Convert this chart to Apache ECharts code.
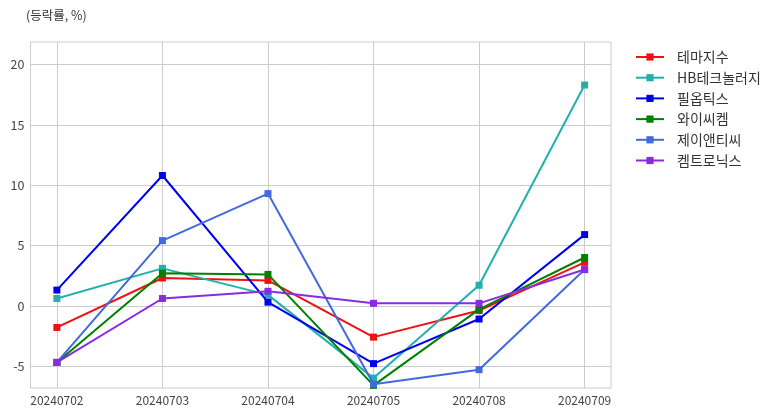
<!DOCTYPE html>
<html>
<head>
<meta charset="utf-8">
<script src="https://cdn.jsdelivr.net/npm/echarts@6/dist/echarts.min.js"></script>
<style>html,body{margin:0;padding:0;background:#fff;}#c{width:777px;height:416px;}</style>
</head>
<body>
<div id="c"></div>
<script>
const dates = ['20240702','20240703','20240704','20240705','20240708','20240709'];
const seriesNames = ['테마지수','HB테크놀러지','필옵틱스','와이씨켐','제이앤티씨','켐트로닉스'];
const themeIndex = [-1.8, 2.3, 2.1, -2.6, -0.4, 3.6];
const hbTech = [0.6, 3.1, 0.9, -6.0, 1.7, 18.3];
const philOptics = [1.3, 10.8, 0.3, -4.8, -1.1, 5.9];
const ycChem = [-4.7, 2.7, 2.6, -6.6, -0.3, 4.0];
const jntc = [-4.7, 5.4, 9.3, -6.5, -5.3, 3.0];
const chemtronics = [-4.7, 0.6, 1.2, 0.2, 0.2, 3.0];
const yTicks = [-5, 0, 5, 10, 15, 20];

const values = [themeIndex, hbTech, philOptics, ycChem, jntc, chemtronics];
const colors = ['#ee1111', '#20b2aa', '#0000ee', '#007f00', '#4169e1', '#8a2be2'];
const font = '"Noto Sans CJK KR", "Noto Sans", sans-serif';

const chart = echarts.init(document.getElementById('c'), null, {renderer: 'canvas'});
chart.setOption({
  animation: false,
  backgroundColor: '#fff',
  textStyle: {fontFamily: font},
  title: {
    text: '(등락률, %)', left: 26, top: 9, padding: 0,
    textStyle: {fontSize: 12.5, fontWeight: 'normal', color: '#333', fontFamily: font}
  },
  legend: {
    orient: 'vertical', left: 635, top: 50, padding: 0,
    itemWidth: 28, itemHeight: 9, itemGap: 6.7,
    data: seriesNames,
    textStyle: {fontSize: 14, color: '#333', fontFamily: font, padding: [0,0,0,8]}
  },
  grid: {
    left: 30.5, right: 166, top: 42, bottom: 28,
    show: true, borderColor: '#cccccc', borderWidth: 1, containLabel: false
  },
  xAxis: {
    type: 'value', min: -0.25, max: 5.25,
    axisLine: {show: false},
    axisTick: {show: false, customValues: [0,1,2,3,4,5]},
    axisLabel: {
      customValues: [0,1,2,3,4,5],
      formatter: v => dates[Math.round(v)],
      fontSize: 12, color: '#444', margin: 6, fontFamily: font
    },
    splitLine: {show: true, lineStyle: {color: '#cccccc', width: 1}}
  },
  yAxis: {
    type: 'value', min: -6.82, max: 21.87,
    axisLine: {show: false},
    axisTick: {show: false, customValues: yTicks},
    axisLabel: {customValues: yTicks, fontSize: 12.5, color: '#444', margin: 6, fontFamily: font},
    splitLine: {show: true, lineStyle: {color: '#cccccc', width: 1}}
  },
  series: seriesNames.map((name, k) => ({
    name: name, type: 'line',
    data: values[k].map((v, i) => [i, v]),
    symbol: 'rect', symbolSize: 7,
    color: colors[k],
    lineStyle: {width: 2, color: colors[k]},
    itemStyle: {color: colors[k]},
    z: 2 + k
  }))
});
</script>
</body>
</html>
